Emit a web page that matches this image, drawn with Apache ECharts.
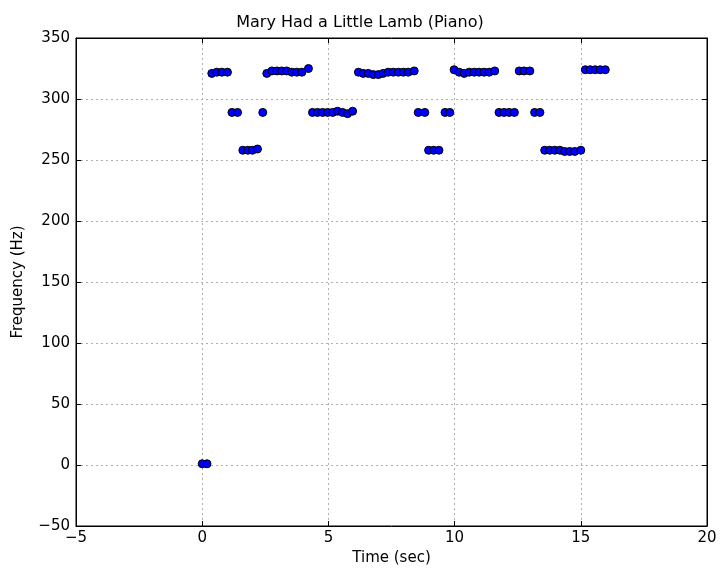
<!DOCTYPE html>
<html>
<head>
<meta charset="utf-8">
<script src="https://cdn.jsdelivr.net/npm/echarts@6/dist/echarts.min.js"></script>
<style>html,body{margin:0;padding:0;background:#fff}#c{width:720px;height:572px}</style>
</head>
<body>
<div id="c"></div>
<script>
const times = [0.0, 0.19,
  0.38, 0.58, 0.78, 1.00,
  1.18, 1.40,
  1.61, 1.81, 1.99, 2.19,
  2.40,
  2.56, 2.76, 2.96, 3.15, 3.35, 3.55, 3.75, 3.95, 4.21,
  4.37, 4.57, 4.77, 4.97, 5.17, 5.36, 5.56, 5.76, 5.96,
  6.19, 6.38, 6.58, 6.78, 6.98, 7.17, 7.37, 7.57, 7.77, 7.97, 8.16, 8.40,
  8.56, 8.82,
  8.97, 9.17, 9.38,
  9.62, 9.81,
  9.98, 10.18, 10.38, 10.58, 10.78, 10.97, 11.17, 11.37, 11.59,
  11.76, 11.96, 12.16, 12.37,
  12.56, 12.75, 12.98,
  13.17, 13.38,
  13.57, 13.77, 13.97, 14.17, 14.36, 14.56, 14.76, 15.00,
  15.18, 15.37, 15.57, 15.77, 15.97];
const freqs = [1, 1,
  321, 322, 322, 322,
  289, 289,
  258, 258, 258, 259,
  289,
  321, 323, 323, 323, 323, 322, 322, 322, 325,
  289, 289, 289, 289, 289, 290, 289, 288, 290,
  322, 321, 321, 320, 320, 321, 322, 322, 322, 322, 322, 323,
  289, 289,
  258, 258, 258,
  289, 289,
  324, 322, 321, 322, 322, 322, 322, 322, 323,
  289, 289, 289, 289,
  323, 323, 323,
  289, 289,
  258, 258, 258, 258, 257, 257, 257, 258,
  324, 324, 324, 324, 324];
const xTicks = [-5, 0, 5, 10, 15, 20];
const yTicks = [-50, 0, 50, 100, 150, 200, 250, 300, 350];

const points = times.map((t, i) => [t, freqs[i]]);
const font = 'DejaVu Sans';
const fmt = v => String(v).replace('-', '\u2212');
const labelStyle = {color: '#000', fontSize: 15, fontFamily: font, formatter: fmt};
const tickStyle = {show: true, inside: true, length: 5, lineStyle: {color: '#000'}};
const splitStyle = {show: true, lineStyle: {color: '#b0b0b0', type: [2, 3], width: 1}};
const lineStyle = {show: true, onZero: false, lineStyle: {color: '#000'}};

const chart = echarts.init(document.getElementById('c'));
chart.setOption({
  animation: false,
  title: {
    text: 'Mary Had a Little Lamb (Piano)', left: 'center', top: 10,
    textStyle: {color: '#000', fontSize: 16, fontWeight: 'normal', fontFamily: font}
  },
  grid: {left: 76, right: 13, top: 38, bottom: 46, show: true, borderColor: '#000', borderWidth: 1},
  xAxis: [{
    type: 'value', min: xTicks[0], max: xTicks[xTicks.length - 1], interval: 5,
    name: 'Time (sec)', nameLocation: 'middle', nameGap: 25,
    nameTextStyle: {color: '#000', fontSize: 15, fontFamily: font},
    axisLine: lineStyle,
    axisTick: tickStyle, axisLabel: {...labelStyle, margin: 5},
    splitLine: splitStyle
  }, {
    type: 'value', position: 'top', min: xTicks[0], max: xTicks[xTicks.length - 1], interval: 5,
    axisLine: lineStyle,
    axisTick: tickStyle, axisLabel: {show: false}, splitLine: {show: false}
  }],
  yAxis: [{
    type: 'value', min: yTicks[0], max: yTicks[yTicks.length - 1], interval: 50,
    name: 'Frequency (Hz)', nameLocation: 'middle', nameGap: 50,
    nameTextStyle: {color: '#000', fontSize: 15, fontFamily: font},
    axisLine: lineStyle,
    axisTick: tickStyle, axisLabel: {...labelStyle, margin: 6},
    splitLine: splitStyle
  }, {
    type: 'value', position: 'right', min: yTicks[0], max: yTicks[yTicks.length - 1], interval: 50,
    axisLine: lineStyle,
    axisTick: tickStyle, axisLabel: {show: false}, splitLine: {show: false}
  }],
  series: [{
    type: 'scatter', xAxisIndex: 0, yAxisIndex: 0,
    data: points, symbol: 'circle', symbolSize: 8,
    itemStyle: {color: '#0000ff', borderColor: '#000', borderWidth: 1, opacity: 1}
  }]
});
</script>
</body>
</html>
